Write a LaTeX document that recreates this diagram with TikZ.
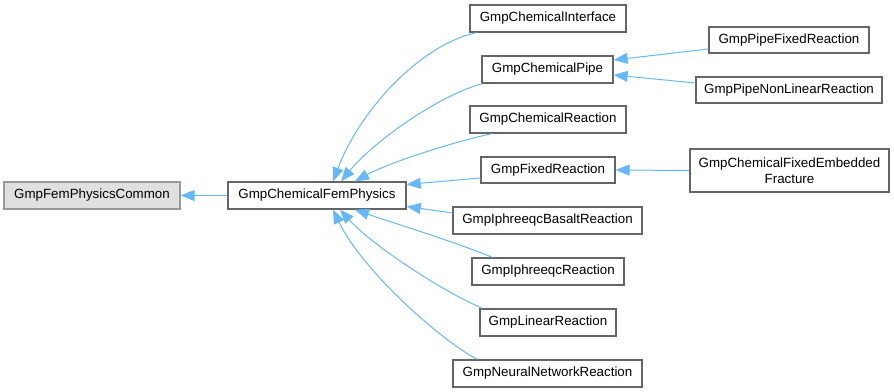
\documentclass[tikz,border=0pt]{standalone}
\usepackage{fontspec}
\setmainfont{Liberation Sans}
\usetikzlibrary{arrows.meta,calc}
\newlength\px
\setlength\px{0.75pt}
\definecolor{edgeblue}{HTML}{63B8FF}
\definecolor{boxgray}{HTML}{666666}
\definecolor{curgray}{HTML}{999999}
\definecolor{curfill}{HTML}{E0E0E0}
\begin{document}
\begin{tikzpicture}[x=0.75pt,y=-0.75pt,
  cls/.style={draw=boxgray,line width=1.3\px,fill=white,inner sep=0pt,
    minimum height=27\px,font=\fontsize{10pt}{12pt}\selectfont,align=center},
  cur/.style={cls,draw=curgray,fill=curfill},
  edge/.style={draw=edgeblue,line width=1\px,-{Triangle[length=10.5pt,width=8.25pt]}}]
\useasboundingbox (0,0) rectangle (894,392);
% nodes
\node[cur,minimum width=176\px] (common) at (92,195.5) {GmpFemPhysicsCommon};
\node[cls,minimum width=178\px] (cfp) at (317,195.5) {GmpChemicalFemPhysics};
\node[cls,minimum width=156\px] (iface) at (548,18.5) {GmpChemicalInterface};
\node[cls,minimum width=131\px] (pipe) at (547.5,69.5) {GmpChemicalPipe};
\node[cls,minimum width=160\px,minimum height=26\px] (pfix) at (789,40) {GmpPipeFixedReaction};
\node[cls,minimum width=186\px,minimum height=26\px] (pnl) at (789,90) {GmpPipeNonLinearReaction};
\node[cls,minimum width=156\px] (creact) at (548,119.5) {GmpChemicalReaction};
\node[cls,minimum width=134\px,minimum height=26\px] (fixed) at (548,170) {GmpFixedReaction};
\node[cls,minimum width=199\px,minimum height=43\px] (frac) at (789.5,170.5) {GmpChemicalFixedEmbedded\\Fracture};
\node[cls,minimum width=189\px] (basalt) at (547.5,220.5) {GmpIphreeqcBasaltReaction};
\node[cls,minimum width=152\px] (iph) at (548,271.5) {GmpIphreeqcReaction};
\node[cls,minimum width=136\px] (linear) at (548,322.5) {GmpLinearReaction};
\node[cls,minimum width=189\px] (neural) at (547.5,373.5) {GmpNeuralNetworkReaction};
% edges
\draw[edge] (cfp.west) -- (common.east);
\draw[edge] ($(iface.south west)+(7,0)$) .. controls (420,45) and (360,110) .. ($(cfp.north)+(16,0)$);
\draw[edge] ($(pipe.south west)+(1,0)$) .. controls (440,95) and (375,140) .. ($(cfp.north)+(24,0)$);
\draw[edge] ($(creact.south west)+(23,0)$) .. controls (460,140) and (390,162) .. ($(cfp.north)+(38,0)$);
\draw[edge] ($(fixed.west)+(0,8)$) -- ($(cfp.east)+(0,-11)$);
\draw[edge] ($(basalt.west)+(0,-7.5)$) -- ($(cfp.east)+(0,11)$);
\draw[edge] ($(iph.north west)+(21,0)$) .. controls (450,240) and (390,222) .. ($(cfp.south)+(38,0)$);
\draw[edge] ($(linear.north west)+(3,0)$) .. controls (440,290) and (372,245) .. ($(cfp.south)+(23,0)$);
\draw[edge] ($(neural.north west)+(25,0)$) .. controls (440,340) and (362,270) .. ($(cfp.south)+(16,0)$);
\draw[edge] ($(pfix.west)+(0,9)$) -- ($(pipe.east)+(0,-9.5)$);
\draw[edge] ($(pnl.west)+(0,-7)$) -- ($(pipe.east)+(0,5.5)$);
\draw[edge] (frac.west) -- (fixed.east);
\end{tikzpicture}
\end{document}
